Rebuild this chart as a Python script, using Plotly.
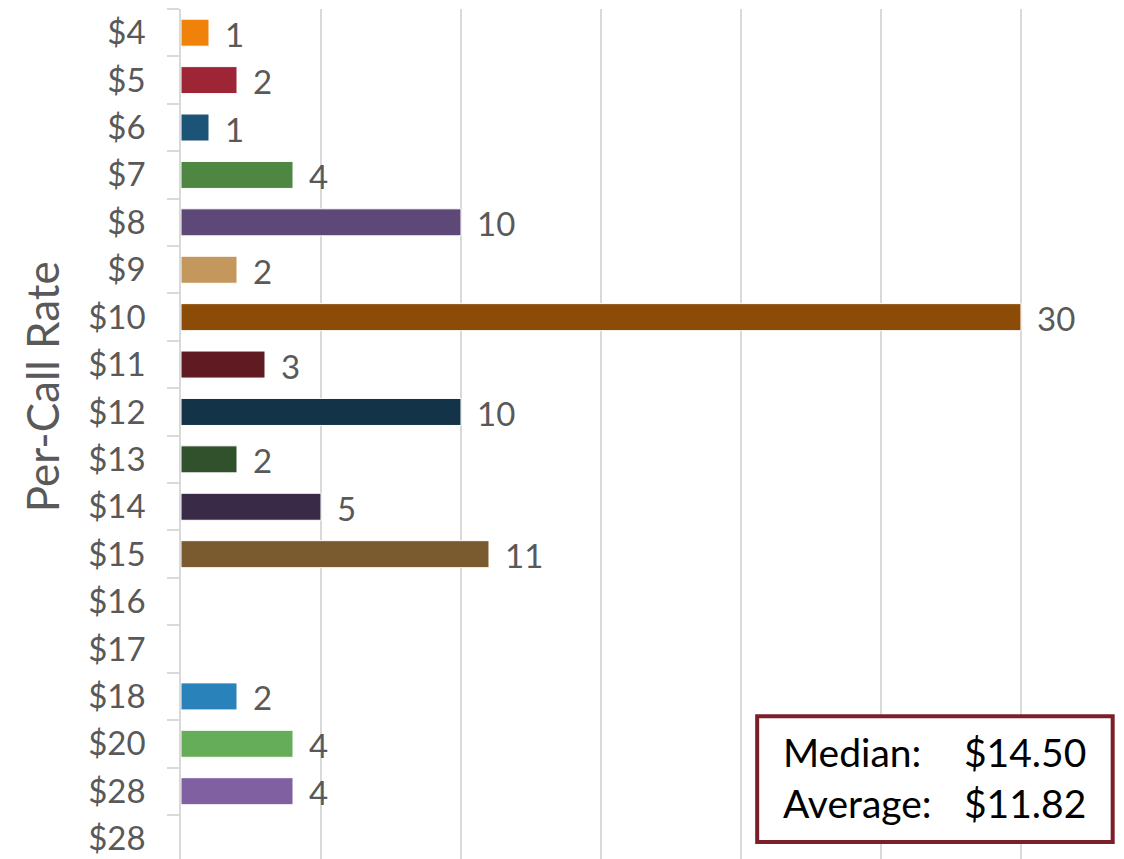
import plotly.graph_objects as go

categories = ["$4", "$5", "$6", "$7", "$8", "$9", "$10", "$11", "$12", "$13",
              "$14", "$15", "$16", "$17", "$18", "$20", "$28", "$28"]
counts = [1, 2, 1, 4, 10, 2, 30, 3, 10, 2, 5, 11, None, None, 2, 4, 4, None]
bar_colors = ["#F0820A", "#9E2536", "#1C5478", "#4E8742", "#5E4878", "#C4975C",
              "#8C4B06", "#601B22", "#133448", "#31502C", "#392B47", "#7A5B30",
              "#7F7F7F", "#7F7F7F", "#2A82BA", "#66AD59", "#8060A0", "#7F7F7F"]
stat_labels = ["Median:", "Average:"]
stat_values = ["$14.50", "$11.82"]

row_ids = [f"r{i}" for i in range(len(categories))]

FONT = "Lato"
GRAY = "#595959"

fig = go.Figure()
fig.add_trace(go.Bar(
    y=row_ids, x=counts, orientation="h",
    marker=dict(color=bar_colors, line=dict(color="white", width=1)),
    width=0.57,
    hoverinfo="skip",
))

annotations = []
for rid, v in zip(row_ids, counts):
    if v is None:
        continue
    annotations.append(dict(
        x=v, y=rid, xref="x", yref="y", text=str(v), showarrow=False,
        xanchor="left", yanchor="middle", xshift=14, yshift=-1,
        font=dict(family=FONT, size=33, color=GRAY),
    ))

# axis title
annotations.append(dict(
    x=-0.1474, y=0.555, xref="paper", yref="paper", text="Per-Call Rate",
    textangle=-90, showarrow=False, xanchor="center", yanchor="middle",
    font=dict(family=FONT, size=44, color=GRAY),
))

# stats box text
box_x0, box_x1 = 0.611, 0.988
box_y0, box_y1 = 0.020, 0.168
row_y = [0.126, 0.066]
for lab, val, yy in zip(stat_labels, stat_values, row_y):
    annotations.append(dict(
        x=0.636, y=yy, xref="paper", yref="paper", text=lab, showarrow=False,
        xanchor="left", yanchor="middle",
        font=dict(family=FONT, size=39, color="black"),
    ))
    annotations.append(dict(
        x=0.962, y=yy, xref="paper", yref="paper", text=val, showarrow=False,
        xanchor="right", yanchor="middle",
        font=dict(family=FONT, size=39, color="black"),
    ))

fig.update_layout(
    width=1124, height=859,
    margin=dict(l=181, r=0, t=9, b=0, autoexpand=False),
    paper_bgcolor="white", plot_bgcolor="white",
    showlegend=False,
    bargap=0.44,
    annotations=annotations,
    shapes=[dict(
        type="rect", xref="paper", yref="paper",
        x0=box_x0, x1=box_x1, y0=box_y0, y1=box_y1,
        line=dict(color="#7B1F2A", width=4), fillcolor="white", layer="above",
    )],
    xaxis=dict(
        range=[0, 33.68], dtick=5, tick0=0, showticklabels=False,
        showgrid=True, gridcolor="#D9D9D9", gridwidth=1.5,
        zeroline=False, showline=False, ticks="", automargin=False,
    ),
    yaxis=dict(
        type="category", categoryorder="array", categoryarray=row_ids,
        tickvals=row_ids, ticktext=categories,
        range=[17.43, -0.5], automargin=False,
        showgrid=False, zeroline=False,
        showline=True, linecolor="#D9D9D9", linewidth=1.5,
        ticks="outside", tickson="boundaries", ticklen=12, tickcolor="#D9D9D9",
        tickwidth=1.5,
        ticklabelstandoff=27,
        tickfont=dict(family=FONT, size=33, color=GRAY),
    ),
)

fig.write_html(
    "out.html",
    config={"displayModeBar": False},
    post_script="document.body.style.margin='0';document.body.style.overflow='hidden';",
)
